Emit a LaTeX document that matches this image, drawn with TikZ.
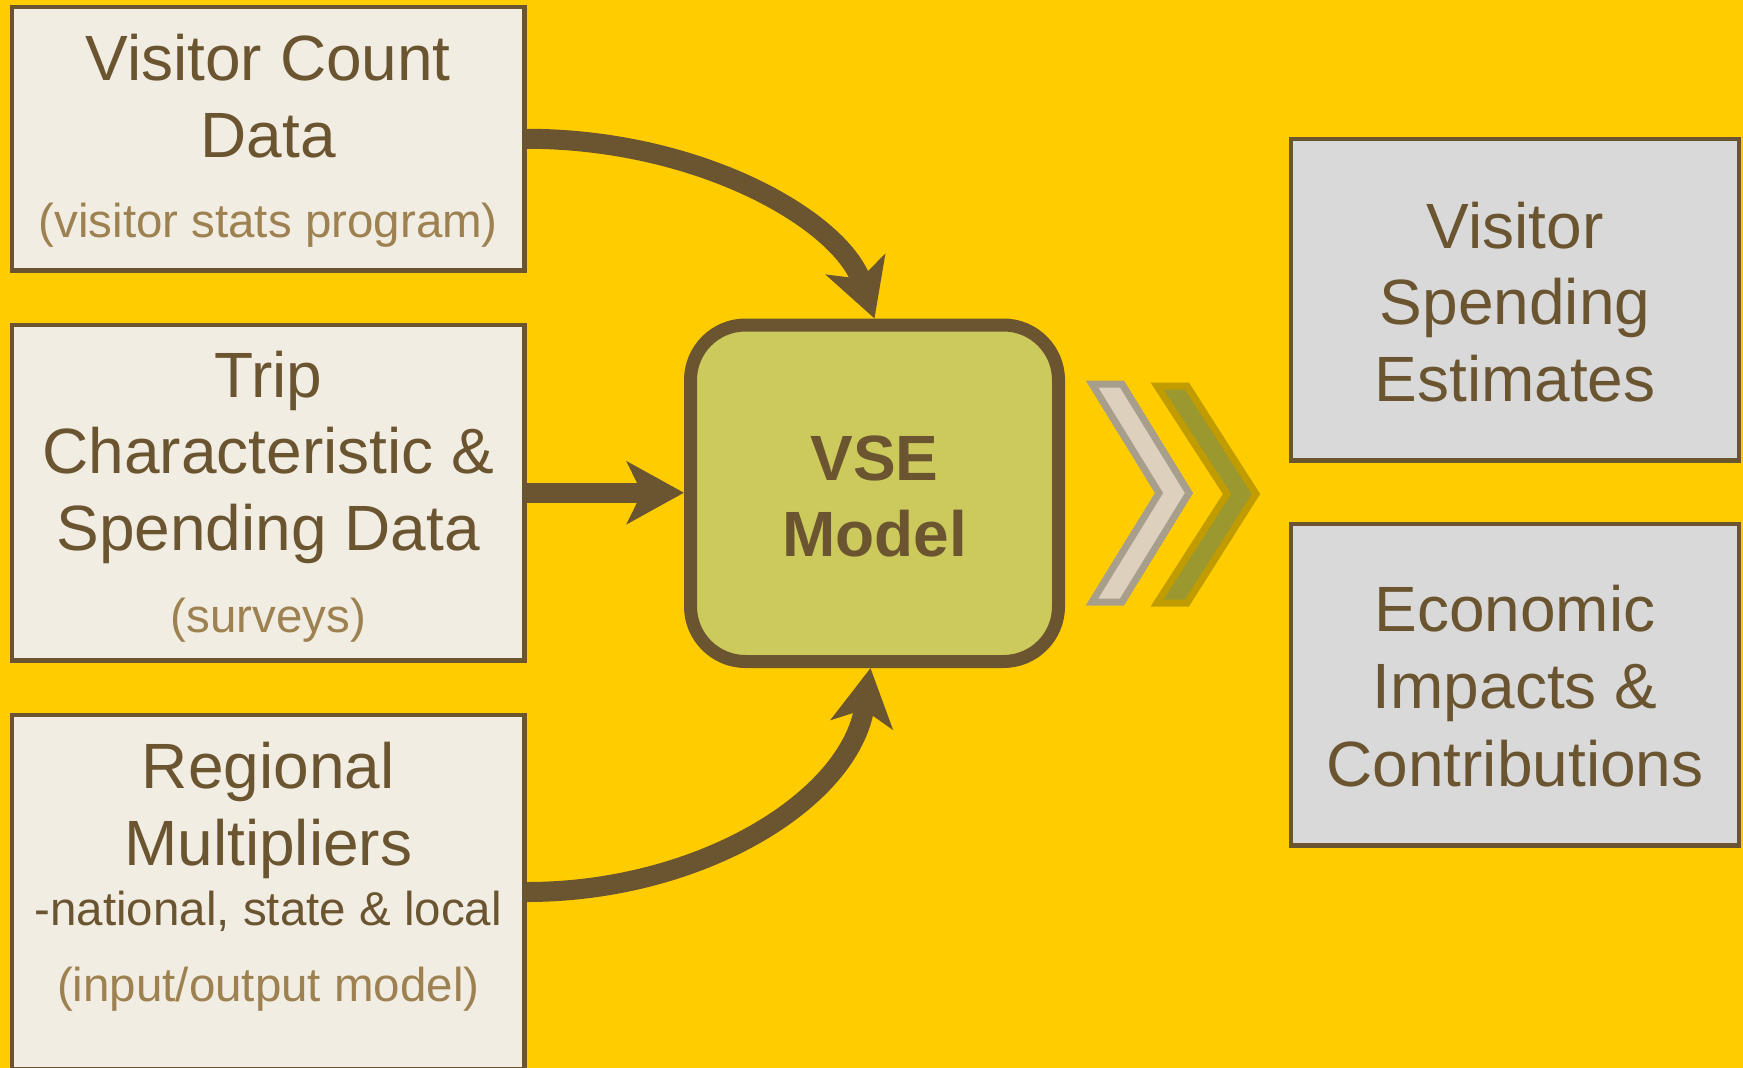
\documentclass[tikz,border=0pt]{standalone}
\usepackage{fontspec}
\setmainfont{Liberation Sans}
\usetikzlibrary{arrows.meta}
\definecolor{bgyellow}{HTML}{FFCC00}
\definecolor{brownline}{HTML}{6B5531}
\definecolor{cream}{HTML}{F1EDE3}
\definecolor{subtan}{HTML}{9E8150}
\definecolor{greybox}{HTML}{D9D9D9}
\definecolor{vseolive}{HTML}{CCCA5C}
\definecolor{chevlight}{HTML}{DDD0BC}
\definecolor{chevlightedge}{HTML}{A89E8C}
\definecolor{chevolive}{HTML}{9C9830}
\definecolor{chevoliveedge}{HTML}{C09C00}
\begin{document}
\begin{tikzpicture}[x=1pt,y=-1pt,
  inbox/.style={draw=brownline, line width=4.5pt, fill=cream, rectangle,
    inner sep=0pt, minimum width=512.5pt},
  outbox/.style={draw=brownline, line width=4.5pt, fill=greybox, rectangle,
    inner sep=0pt, minimum width=448pt, minimum height=321.5pt},
  maintext/.style={anchor=base, text=brownline, inner sep=0pt,
    font=\fontsize{64}{77}\selectfont},
  subtext/.style={anchor=base, text=subtan, inner sep=0pt,
    font=\fontsize{47.5}{57}\selectfont},
  notetext/.style={subtext, text=brownline},
  flowarrow/.style={draw=brownline, line width=20pt,
    -{Stealth[length=57pt,width=62pt,inset=15pt]}},
]
\useasboundingbox (0,0) rectangle (1743,1068);
\clip (0,0) rectangle (1743,1068);
\fill[bgyellow] (0,0) rectangle (1743,1068);

% input boxes
\node[inbox, minimum height=263.5pt] (b1) at (268.25,138.75) {};
\node[inbox, minimum height=335.5pt] (b2) at (268.25,492.75) {};
\node[inbox, minimum height=354pt]   (b3) at (268.25,892) {};

\node[maintext] (b1l1) at (268.25,80)  {Visitor Count};
\node[maintext] (b1l2) at (268.25,157) {Data};
\node[subtext]  (b1l3) at (268.25,237) {(visitor stats program)};

\node[maintext] (b2l1) at (268.25,397) {Trip};
\node[maintext] (b2l2) at (268.25,473) {Characteristic \&};
\node[maintext] (b2l3) at (268.25,550) {Spending Data};
\node[subtext]  (b2l4) at (268.25,632) {(surveys)};

\node[maintext] (b3l1) at (268.25,788)  {Regional};
\node[maintext] (b3l2) at (268.25,865)  {Multipliers};
\node[notetext] (b3l3) at (268.25,925)  {-national, state \& local};
\node[subtext]  (b3l4) at (268.25,1001) {(input/output model)};

% model box
\node[draw=brownline, line width=13pt, fill=vseolive, rectangle,
  rounded corners=55pt, inner sep=0pt,
  minimum width=368pt, minimum height=336.5pt] (vse) at (874.5,493.25) {};
\node[maintext, font=\fontsize{64}{77}\selectfont\bfseries] (vsel1) at (874.5,480) {VSE};
\node[maintext, font=\fontsize{64}{77}\selectfont\bfseries] (vsel2) at (874.5,556) {Model};

% output boxes
\node[outbox] (o1) at (1515,299.75) {};
\node[outbox] (o2) at (1515,684.75) {};
\node[maintext] (o1l1) at (1515,248) {Visitor};
\node[maintext] (o1l2) at (1515,324) {Spending};
\node[maintext] (o1l3) at (1515,401) {Estimates};
\node[maintext] (o2l1) at (1515,631) {Economic};
\node[maintext] (o2l2) at (1515,708) {Impacts \&};
\node[maintext] (o2l3) at (1515,786) {Contributions};

% flows into the model
\draw[flowarrow] (b1.east) .. controls (700,139) and (840,220) .. (vse.north);
\draw[flowarrow] (b2.east) -- (vse.west |- b2.east);
\draw[flowarrow] (b3.east) .. controls (700,892) and (850,800) .. ([xshift=-4pt]vse.south);

% chevrons towards the results
\filldraw[fill=chevlight, draw=chevlightedge, line width=7pt, line join=miter]
  (1092,384) -- (1122,384) -- (1189,493) -- (1122,602) -- (1092,602) -- (1159,493) -- cycle;
\filldraw[fill=chevolive, draw=chevoliveedge, line width=7pt, line join=miter]
  (1157,386) -- (1187,386) -- (1256,494) -- (1187,603) -- (1157,603) -- (1227,494) -- cycle;
\end{tikzpicture}
\end{document}
